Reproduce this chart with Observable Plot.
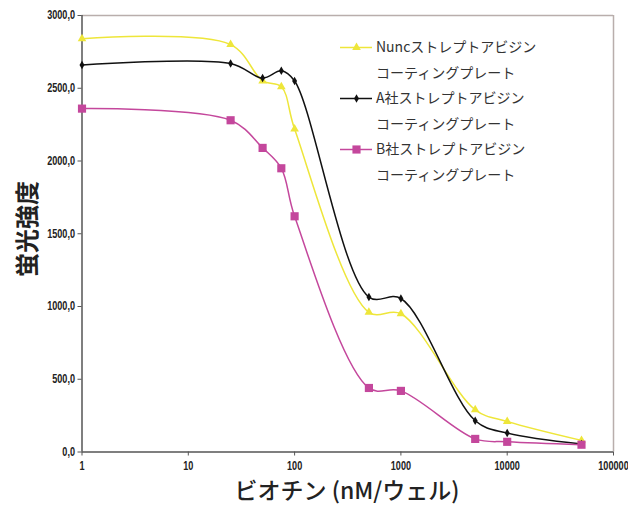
<!DOCTYPE html>
<html><head><meta charset="utf-8">
<script src="https://cdn.jsdelivr.net/npm/d3@7"></script>
<script src="https://cdn.jsdelivr.net/npm/@observablehq/plot@0.6"></script>
<style>
body{margin:0;background:#fff;}
#wrap{position:relative;width:628px;height:511px;}
#legend{position:absolute;left:340px;top:34px;font-family:"Noto Sans CJK JP","Noto Sans",sans-serif;font-size:14px;color:#333;line-height:25.5px;}
.row{display:flex;align-items:center;}
.sw{width:32px;height:14px;margin-right:4px;}
.cont{padding-left:36px;}
#ytitle{position:absolute;left:25px;top:229px;transform:translate(-50%,-50%) rotate(-90deg);font-family:"Noto Sans CJK JP",sans-serif;font-size:24px;font-weight:700;color:#222;white-space:nowrap;}
#xtitle{position:absolute;left:347px;top:489px;transform:translate(-50%,-50%);font-family:"Noto Sans CJK JP",sans-serif;font-size:23px;font-weight:500;color:#222;white-space:nowrap;}
</style></head>
<body><div id="wrap"><div id="ytitle">蛍光強度</div><div id="xtitle">ビオチン (nM/ウェル)</div><div id="legend"></div></div>
<script>
const conc = [1, 25, 50, 75, 100, 500, 1000, 5000, 10000, 50000];
const nunc = [2840, 2800, 2550, 2510, 2220, 960, 950, 290, 210, 80];
const compA = [2660, 2670, 2570, 2620, 2550, 1065, 1055, 215, 130, 55];
const compB = [2360, 2280, 2090, 1950, 1620, 440, 420, 90, 70, 50];
const seriesNames = ["Nuncストレプトアビジン", "A社ストレプトアビジン", "B社ストレプトアビジン"];
const legendSub = "コーティングプレート";
const colors = ["#eee63a", "#111111", "#c4479c"];
const symbols = ["triangle", "diamond", "square"];
const xTicks = [1, 10, 100, 1000, 10000, 100000];
const yTicks = [0, 500, 1000, 1500, 2000, 2500, 3000];

const values = [nunc, compA, compB];
const data = [];
values.forEach((vals, si) => vals.forEach((v, i) => data.push({s: seriesNames[si], x: conc[i], y: v})));

const tickFont = '"Liberation Sans","Arial",sans-serif';
const plot = Plot.plot({
  width: 628, height: 511,
  marginLeft: 81.5, marginRight: 15, marginTop: 15, marginBottom: 59.5,
  style: {fontFamily: tickFont, fontSize: "12px", fontWeight: "bold", color: "#222", background: "transparent"},
  x: {type: "log", domain: [1, 100000], ticks: xTicks, tickFormat: d => String(d), label: null},
  y: {domain: [0, 3000], ticks: yTicks, tickFormat: d => d.toFixed(1).replace(".", ","), label: null},
  color: {domain: seriesNames, range: colors},
  symbol: {domain: seriesNames, range: symbols},
  marks: [
    Plot.ruleY([3000], {stroke: "#b9aeac", strokeWidth: 1.5}),
    Plot.ruleX([100000], {stroke: "#b9aeac", strokeWidth: 1.5}),
    Plot.axisX({ticks: xTicks, tickFormat: d => String(d), tickSize: 4, tickPadding: 5, stroke: "#555", fill: "#222", fontWeight: "bold", label: null}),
    Plot.axisY({ticks: yTicks, tickFormat: d => d.toFixed(1).replace(".", ","), tickSize: 4, tickPadding: 3, stroke: "#555", fill: "#222", label: null}),
    Plot.ruleY([0], {stroke: "#555", strokeWidth: 1.5}),
    Plot.ruleX([1], {stroke: "#555", strokeWidth: 1.5}),
    Plot.line(data, {x: "x", y: "y", z: "s", stroke: "s", strokeWidth: 1.5, curve: "catmull-rom"}),
    Plot.dot(data.filter(d => d.s === seriesNames[0]), {x: "x", y: "y", symbol: "triangle", fill: colors[0], r: 3.2}),
    Plot.dot(data.filter(d => d.s === seriesNames[1]), {x: "x", y: "y", symbol: "diamond", fill: colors[1], r: 2.6}),
    Plot.dot(data.filter(d => d.s === seriesNames[2]), {x: "x", y: "y", symbol: "square", fill: colors[2], r: 4.6})
  ]
});
plot.style.position = "absolute"; plot.style.left = "0"; plot.style.top = "0";
document.getElementById("wrap").prepend(plot);
// condense tick labels like the narrow font of the reference
plot.querySelectorAll("g[aria-label='x-axis tick label'] text, g[aria-label='y-axis tick label'] text").forEach(t => {
  const tr = t.getAttribute("transform") || "";
  t.setAttribute("transform", tr + " scale(0.76,1)");
});

const leg = document.getElementById("legend");
seriesNames.forEach((name, i) => {
  const row = document.createElement("div"); row.className = "row";
  const sw = Plot.plot({width: 32, height: 14, margin: 0, x: {domain: [0, 1], axis: null}, y: {domain: [0, 1], axis: null},
    marks: [Plot.ruleY([0.5], {x1: 0, x2: 1, stroke: colors[i], strokeWidth: 1.5}),
            Plot.dot([[0.5, 0.5]], {symbol: symbols[i], fill: colors[i], r: [3.2, 2.6, 4.6][i]})]});
  sw.classList.add("sw");
  row.appendChild(sw);
  const t = document.createElement("span"); t.textContent = name; row.appendChild(t);
  leg.appendChild(row);
  const sub = document.createElement("div"); sub.className = "cont"; sub.textContent = legendSub; leg.appendChild(sub);
});
</script></body></html>
